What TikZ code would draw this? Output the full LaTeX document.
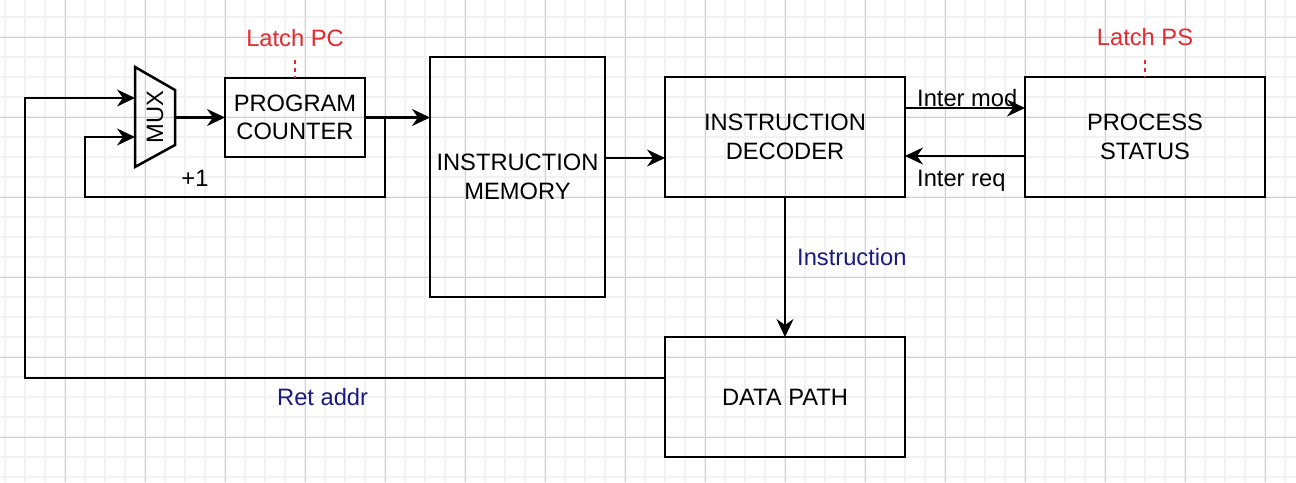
\documentclass[tikz,border=0pt]{standalone}
\usepackage{fontspec}
\setmainfont{Liberation Sans}
\usetikzlibrary{arrows.meta, positioning}
\definecolor{latchred}{RGB}{228,42,48}
\definecolor{sigblue}{RGB}{26,26,128}

\begin{document}
\begin{tikzpicture}[
  x=1pt, y=-1pt,
  node distance=60pt and 120pt,
  box/.style={draw, line width=2.5pt, align=center, inner sep=0pt, outer sep=0pt, font=\fontsize{23.7}{28.5}\selectfont},
  lbl/.style={inner sep=0pt, font=\fontsize{23.7}{28.5}\selectfont},
  arrow/.style={-{Stealth[length=18pt, width=17pt, inset=6pt]}, line width=2.4pt},
  latch/.style={draw=latchred, line width=2.2pt, dash pattern=on 4pt off 4pt},
  minor/.style={gray!10, line width=1.5pt},
  major/.style={gray!38, line width=1pt}
]
\useasboundingbox (0,0) rectangle (1296,482);
\fill[white] (0,0) rectangle (1296,482);
\foreach \x in {5,25,...,1295} \draw[minor] (\x,0) -- (\x,482);
\foreach \y in {17,37,...,477} \draw[minor] (0,\y) -- (1296,\y);
\foreach \x in {65,145,...,1265} \draw[major] (\x,0) -- (\x,482);
\foreach \y in {37,117,...,437} \draw[major] (0,\y) -- (1296,\y);

\node[box, minimum width=140pt, minimum height=79pt] (pc) at (295,117.5) {PROGRAM\\COUNTER};
\node[box, minimum width=175pt, minimum height=240pt] (imem) at (517.5,177) {INSTRUCTION\\MEMORY};
\node[box, minimum width=240pt, minimum height=120pt] (dec) at (785,137) {INSTRUCTION\\DECODER};
\node[box, minimum width=240pt, minimum height=120pt, right=of dec] (ps) {PROCESS\\STATUS};
\node[box, minimum width=240pt, minimum height=120pt, below=140pt of dec] (dpath) {DATA PATH};

\draw[line width=2.5pt] (135,67) -- (175,90) -- (175,145) -- (135,167) -- cycle;
\node[lbl, rotate=90] (mux) at (155,117) {MUX};
\coordinate (muxa) at (135,98);
\coordinate (muxb) at (135,137);
\coordinate (muxout) at (175,117.5);
\coordinate (tap) at (385,117.5);

\node[lbl, text=latchred, above=31.5pt of pc] (latchpc) {Latch PC};
\node[lbl, text=latchred, above=31pt of ps] (latchps) {Latch PS};
\node[lbl, anchor=base west] (imod) at (917,106) {Inter mod};
\node[lbl, anchor=base west] (ireq) at (917,186) {Inter req};
\node[lbl, anchor=base] (plus) at (195,186) {+1};
\node[lbl, anchor=base west, text=sigblue] (instr) at (797,265.5) {Instruction};
\node[lbl, anchor=base west, text=sigblue] (ret) at (277,405.5) {Ret addr};

\draw[latch, shorten <=13.5pt] (latchpc) -- (pc);
\draw[latch, shorten <=14pt] (latchps) -- (ps);
\draw[arrow] (muxout) -- (pc);
\draw[arrow] (pc) -- (pc -| imem.west);
\draw[arrow] (tap) -- (385,197) -| (85,137) -- (muxb);
\draw[arrow] ([yshift=19pt]dpath.west) -| (25,98) -- (muxa);
\draw[arrow] ([yshift=19pt]imem.east) -- ([yshift=-21pt]dec.west);
\draw[arrow] ([yshift=29pt]dec.east) -- ([yshift=29pt]ps.west);
\draw[arrow] ([yshift=-19pt]ps.west) -- ([yshift=-19pt]dec.east);
\draw[arrow] (dec) -- (dpath);
\end{tikzpicture}
\end{document}
